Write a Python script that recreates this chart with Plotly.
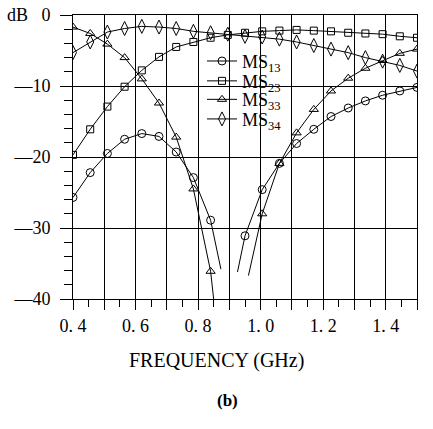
import plotly.graph_objects as go

# ---- data ----
freq = [0.4, 0.455, 0.51, 0.565, 0.62, 0.675, 0.73, 0.785, 0.84, 0.895, 0.95,
        1.005, 1.06, 1.115, 1.17, 1.225, 1.28, 1.335, 1.39, 1.445, 1.5]

ms13 = [-25.7, -22.2, -19.5, -17.5, -16.7, -17.1, -19.3, -22.9, -28.9, None, -31.1,
        -24.6, -20.9, -18.1, -16.1, -14.3, -13.1, -12.1, -11.3, -10.7, -10.2]
ms23 = [-19.7, -16.1, -12.9, -10.1, -7.8, -5.9, -4.5, -3.8, -3.2, -2.8, -2.5,
        -2.3, -2.2, -2.1, -2.2, -2.3, -2.5, -2.6, -2.7, -3.0, -3.2]
ms33 = [-1.7, -2.6, -4.1, -6.0, -9.0, -12.4, -17.2, -24.5, -36.1, None, None,
        -28.0, -20.9, -16.6, -13.3, -10.7, -8.9, -7.5, -6.4, -5.4, -4.8]
ms34 = [-5.3, -3.8, -2.4, -1.9, -1.6, -1.7, -1.9, -2.3, -2.5, -2.7, -3.0,
        -3.1, -3.4, -3.8, -4.3, -4.8, -5.3, -6.0, -6.5, -7.1, -7.9]

# curve continuations into the null (no markers)
ms13_tail_f = [0.84, 0.873, None, 0.926, 0.95]
ms13_tail = [-28.9, -35.8, None, -36.2, -31.1]
ms33_tail_f = [0.84, 0.851, None, 0.961, 1.005]
ms33_tail = [-36.1, -40.5, None, -36.7, -28.0]

series_names = ["MS<sub>13</sub>", "MS<sub>23</sub>", "MS<sub>33</sub>", "MS<sub>34</sub>"]

x_tickvals = [0.4, 0.5, 0.6, 0.7, 0.8, 0.9, 1.0, 1.1, 1.2, 1.3, 1.4, 1.5]
x_ticktext = ["0.\u00a04", "", "0.\u00a06", "", "0.\u00a08", "", "1.\u00a00", "",
              "1.\u00a02", "", "1.\u00a04", ""]
y_tickvals = [0, -10, -20, -30, -40]
y_ticktext = ["dB\u00a0\u00a0\u00a00", "\u201410", "\u201420", "\u201430", "\u201440"]

FONT = "Liberation Serif"

fig = go.Figure()

symbols = ["circle-open", "square-open", "triangle-up-open", "diamond-tall-open"]
sizes = [8, 7, 8, 10]
legend_ids = ["legend", "legend2", "legend3", "legend4"]
for name, vals, sym, sz, lg in zip(series_names, [ms13, ms23, ms33, ms34], symbols, sizes, legend_ids):
    fig.add_trace(go.Scatter(
        x=freq, y=vals, mode="lines+markers", name=name, legend=lg,
        line=dict(color="black", width=1),
        marker=dict(symbol=sym, size=sz, color="black", line=dict(width=1, color="black")),
    ))

for tf, tv in [(ms13_tail_f, ms13_tail), (ms33_tail_f, ms33_tail)]:
    fig.add_trace(go.Scatter(
        x=tf, y=tv, mode="lines", showlegend=False, hoverinfo="skip",
        line=dict(color="black", width=1),
    ))

legend_rows = [0.837, 0.767, 0.702, 0.633]
legend_style = {}
for lg, yy in zip(legend_ids, legend_rows):
    legend_style[lg] = dict(
        x=0.375, y=yy, xanchor="left", yanchor="middle",
        bgcolor="rgba(255,255,255,0)", borderwidth=0,
        font=dict(family=FONT, size=18, color="black"),
    )

fig.update_layout(
    width=433, height=429,
    margin=dict(l=73, r=16, t=15, b=130, autoexpand=False),
    paper_bgcolor="white", plot_bgcolor="white",
    font=dict(family=FONT, size=18, color="black"),
    showlegend=True,
    **legend_style,
    xaxis=dict(
        range=[0.4, 1.5], tickmode="array", tickvals=x_tickvals, ticktext=x_ticktext,
        showgrid=True, gridcolor="black", gridwidth=1,
        showline=True, linecolor="black", linewidth=1, mirror=True,
        ticks="outside", ticklen=10, tickcolor="black", tickwidth=1,
        zeroline=False, automargin=False,
        tickfont=dict(family=FONT, size=18, color="black"),
        ticklabelstandoff=0,
        minor=dict(dtick=0.05, tick0=0.4, ticks="outside", ticklen=7,
                   tickcolor="black", tickwidth=1, showgrid=False),
    ),
    yaxis=dict(
        range=[-40, 0], tickmode="array", tickvals=y_tickvals, ticktext=y_ticktext,
        showgrid=True, gridcolor="black", gridwidth=1,
        showline=True, linecolor="black", linewidth=1, mirror=True,
        ticks="outside", ticklen=12, tickcolor="black", tickwidth=1,
        zeroline=False, automargin=False,
        tickfont=dict(family=FONT, size=18, color="black"),
        ticklabelstandoff=6,
        minor=dict(dtick=2, ticks="outside", ticklen=8,
                   tickcolor="black", tickwidth=1, showgrid=False),
    ),
    annotations=[
        dict(text="FREQUENCY (GHz)", xref="paper", yref="paper", x=0.417, y=-0.215,
             xanchor="center", yanchor="middle", showarrow=False,
             font=dict(family=FONT, size=20, color="black")),
        dict(text="<b>(b)</b>", xref="paper", yref="paper", x=0.448, y=-0.356,
             xanchor="center", yanchor="middle", showarrow=False,
             font=dict(family=FONT, size=17, color="black")),
    ],
)

fig.write_html(
    "out.html",
    config={"displayModeBar": False},
    post_script="document.body.style.margin='0';document.body.style.overflow='hidden';",
)
